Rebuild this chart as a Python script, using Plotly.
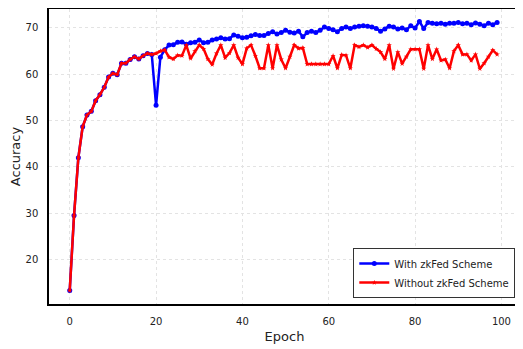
import plotly.graph_objects as go

epochs = list(range(100))

with_zkfed = [
    13.3, 29.5, 42.0, 48.7, 51.2, 52.0, 54.3, 55.6, 57.2, 59.4,
    60.2, 59.9, 62.4, 62.4, 63.2, 63.8, 63.3, 64.0, 64.5, 64.3,
    53.3, 63.7, 65.3, 66.3, 66.4, 66.9, 67.0, 66.5, 66.8, 66.9,
    67.4, 66.8, 66.9, 67.4, 67.6, 67.9, 67.6, 67.7, 68.5, 68.2,
    67.9, 68.0, 68.3, 68.6, 68.4, 68.4, 68.8, 69.2, 68.7, 69.0,
    69.5, 69.1, 68.9, 69.3, 68.1, 69.0, 69.3, 69.0, 69.5, 70.2,
    69.9, 69.6, 69.2, 69.9, 70.2, 69.9, 70.2, 70.4, 70.5, 70.4,
    70.2, 69.9, 69.3, 69.8, 70.4, 70.2, 69.8, 70.0, 69.6, 70.5,
    70.0, 71.4, 69.9, 71.2, 71.0, 70.9, 71.0, 70.8, 71.0, 71.0,
    71.2, 70.9, 71.0, 70.7, 71.1, 70.8, 70.5, 71.0, 70.7, 71.2,
]

without_zkfed = [
    13.3, 29.5, 42.0, 48.7, 51.2, 52.0, 54.3, 55.6, 57.2, 59.4,
    60.2, 59.9, 62.4, 62.4, 63.2, 63.8, 63.3, 64.0, 64.5, 64.3,
    64.5, 65.0, 65.3, 63.7, 63.3, 64.1, 64.0, 66.3, 63.4, 65.0,
    66.3, 65.5, 63.3, 62.1, 64.5, 66.3, 63.6, 64.6, 66.3, 63.6,
    62.2, 65.6, 66.3, 64.0, 61.3, 61.3, 66.3, 61.3, 66.3, 63.2,
    61.3, 63.8, 66.3, 65.6, 65.7, 62.2, 62.2, 62.2, 62.2, 62.2,
    62.2, 64.0, 61.3, 64.2, 64.1, 61.3, 66.3, 65.9, 66.3, 65.8,
    66.3, 65.5, 64.8, 63.3, 66.3, 61.2, 64.8, 62.3, 63.8, 65.4,
    65.4, 65.4, 61.2, 66.3, 63.3, 65.4, 63.0, 63.2, 61.3, 65.0,
    66.3, 64.3, 64.3, 63.0, 64.3, 61.2, 62.4, 63.8, 65.2, 64.3,
]

fig = go.Figure()
fig.add_trace(go.Scatter(
    x=epochs, y=with_zkfed, mode="lines+markers", name="With zkFed Scheme",
    line={"color": "#0000ff", "width": 2.5},
    marker={"symbol": "circle", "size": 5, "color": "#0000ff"},
))
fig.add_trace(go.Scatter(
    x=epochs, y=without_zkfed, mode="lines+markers", name="Without zkFed Scheme",
    line={"color": "#ff0000", "width": 2.5},
    marker={"symbol": "star", "size": 4, "color": "#ff0000"},
))

axis_style = dict(
    showline=True, linecolor="black", linewidth=1.5, mirror=True,
    showgrid=True, gridcolor="#e3e3e3", griddash="dot", gridwidth=1,
    zeroline=False, ticks="", tickfont={"size": 10, "color": "#222"},
    title_font={"size": 13, "color": "#222"}, automargin=False,
)
fig.update_xaxes(title_text="Epoch", range=[-4.8, 104.3], tickvals=[0, 20, 40, 60, 80, 100],
                 ticklabelstandoff=7, title_standoff=6, **axis_style)
fig.update_yaxes(title_text="Accuracy", range=[10.4, 74.1], tickvals=[20, 30, 40, 50, 60, 70],
                 ticklabelstandoff=7, title_standoff=10, **axis_style)

# the page body keeps its default 8px margin, so the figure is drawn 8px in from the corner
fig.update_layout(
    width=519, height=343,
    margin={"l": 41, "r": 7, "t": 1, "b": 47},
    plot_bgcolor="white", paper_bgcolor="white",
    font={"family": "DejaVu Sans", "color": "#222"},
    showlegend=True,
    legend={
        "x": 0.99, "y": 0.02, "xanchor": "right", "yanchor": "bottom",
        "bordercolor": "#333", "borderwidth": 1, "bgcolor": "white",
        "font": {"size": 10}, "tracegroupgap": 0, "itemwidth": 30,
    },
)

fig.write_html("out.html")
